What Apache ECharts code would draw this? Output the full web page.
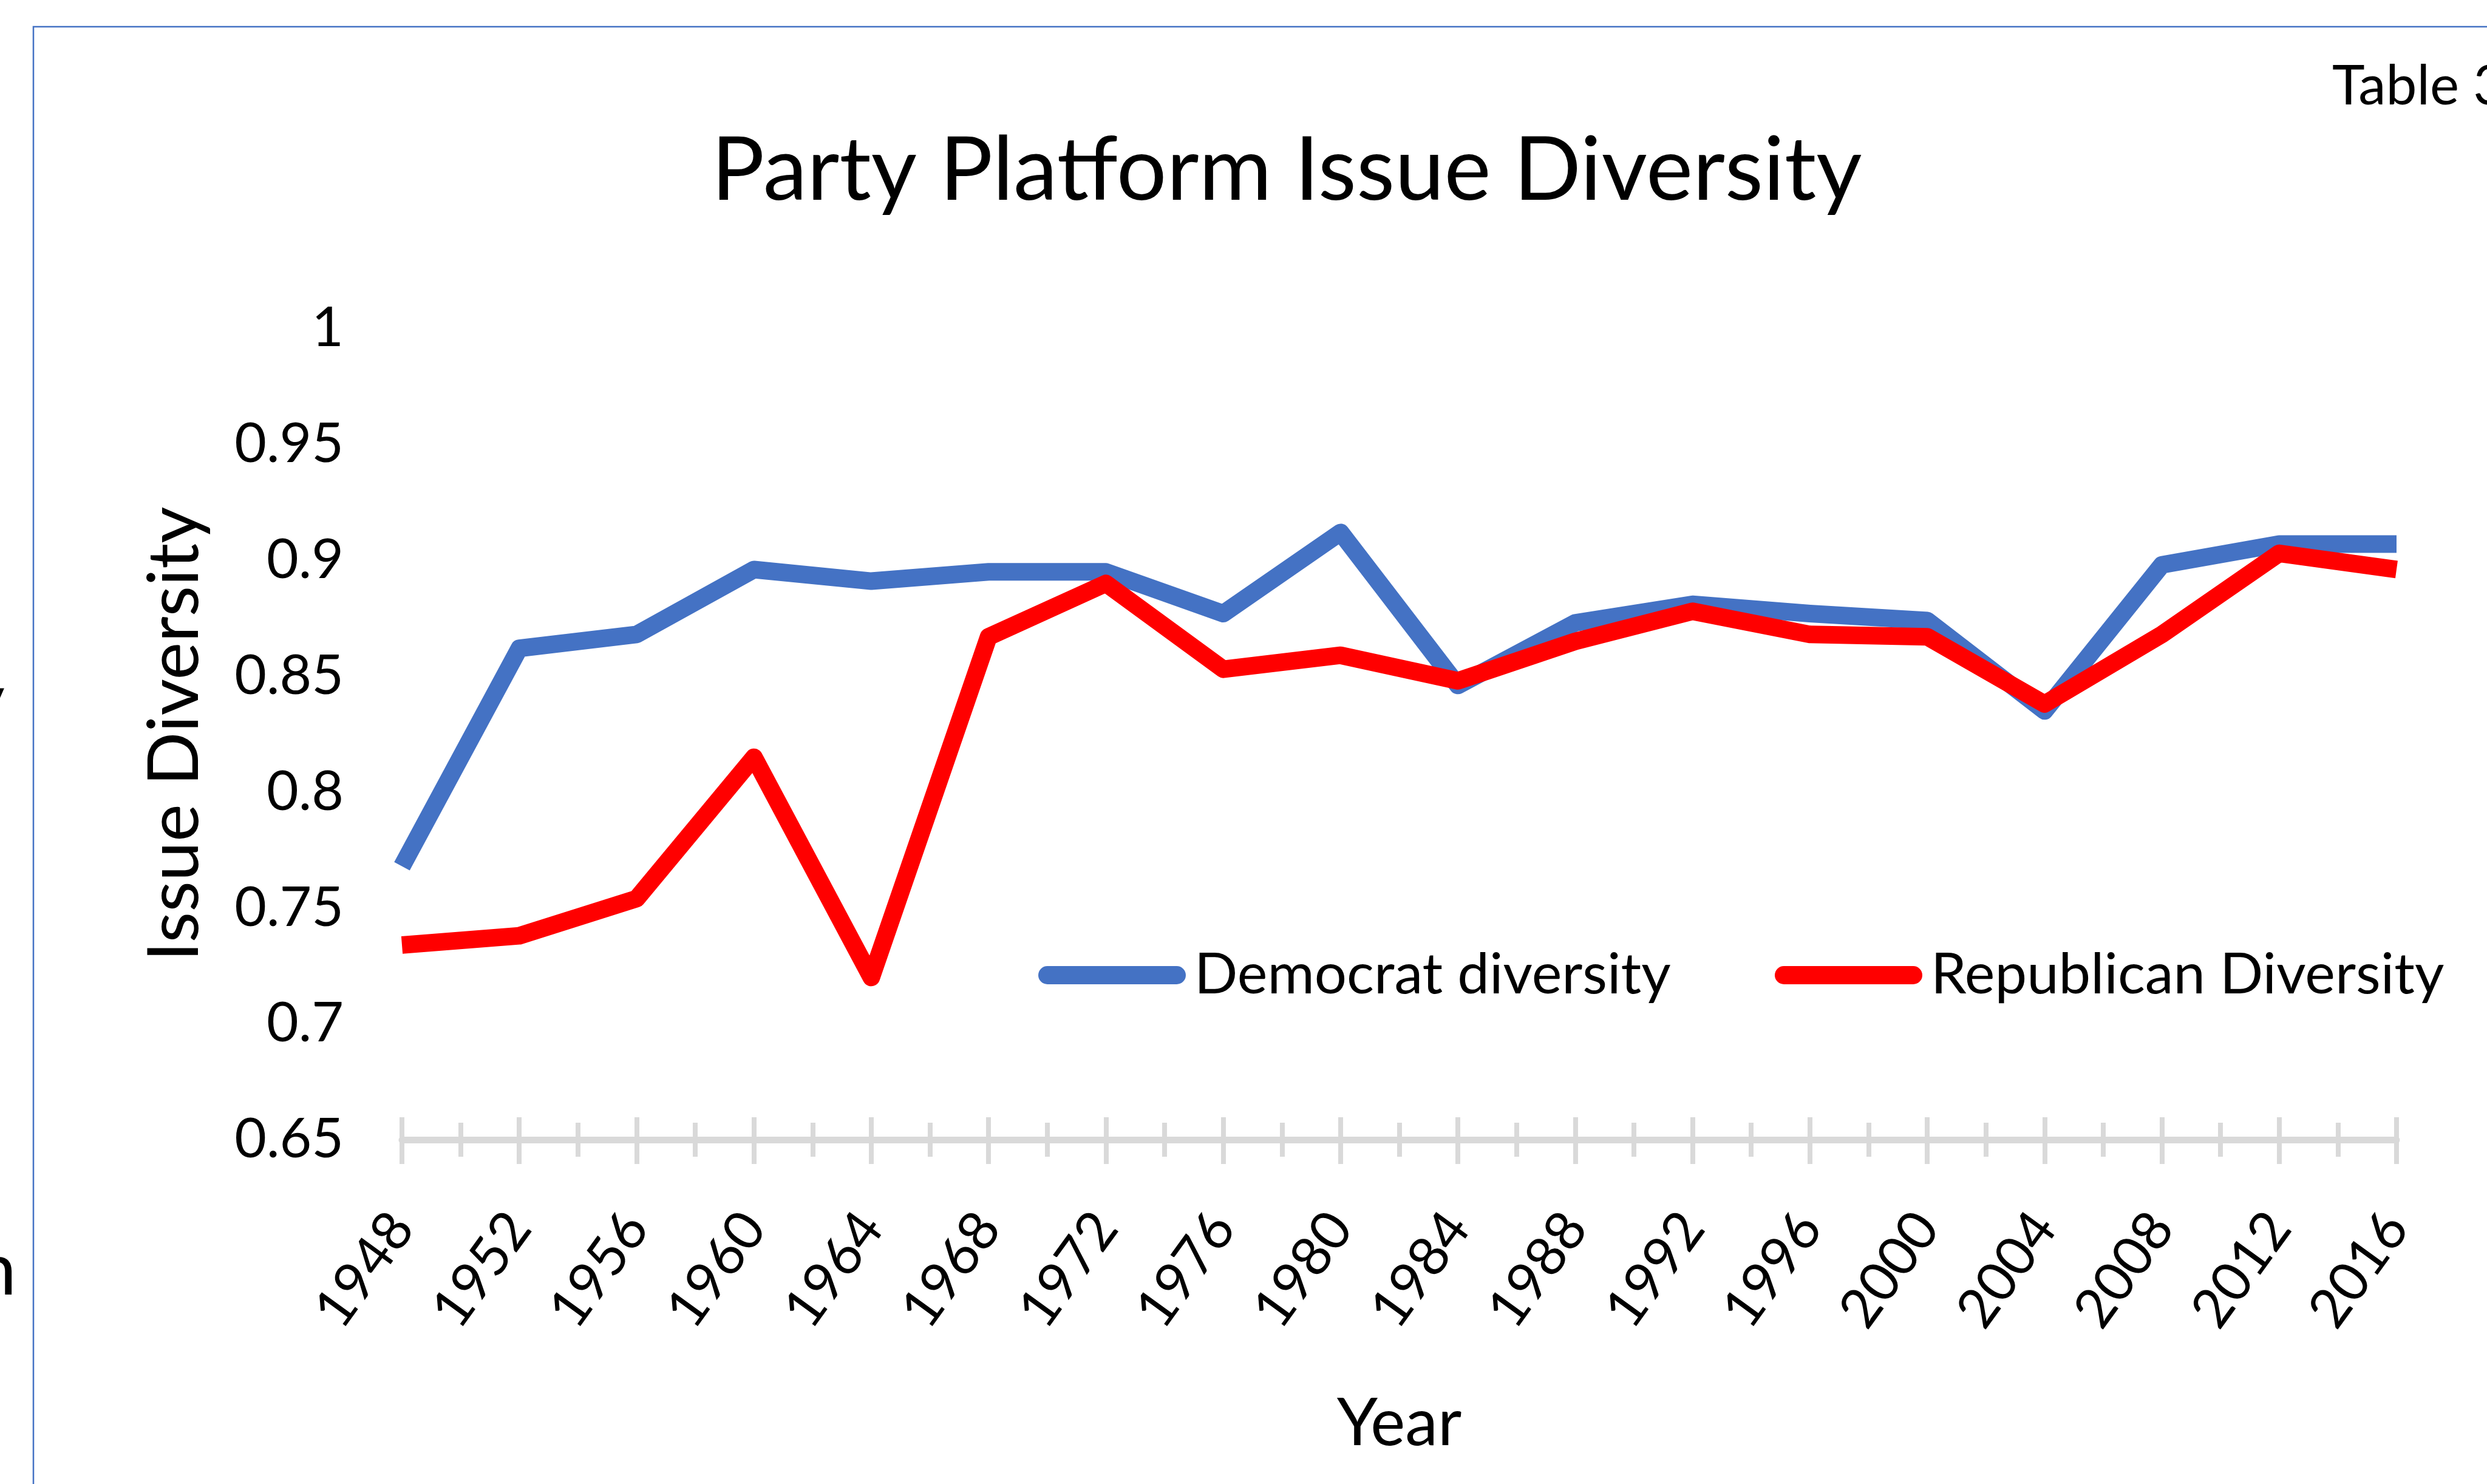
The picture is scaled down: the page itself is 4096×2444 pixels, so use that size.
<!DOCTYPE html>
<html>
<head>
<meta charset="utf-8">
<script src="https://cdn.jsdelivr.net/npm/echarts@6/dist/echarts.min.js"></script>
<style>
html,body{margin:0;padding:0;background:#fff;overflow:hidden}
#c{width:4096px;height:2444px}
</style>
</head>
<body>
<div id="c"></div>
<script>
// ---- data ----
const years = [1948,1952,1956,1960,1964,1968,1972,1976,1980,1984,1988,1992,1996,2000,2004,2008,2012,2016];
const yearLabels = ['1948','1952','1956','1960','1964','1968','1972','1976','1980','1984','1988','1992','1996','2000','2004','2008','2012','2016'];
const democratDiversity = [0.768,0.862,0.868,0.896,0.891,0.895,0.895,0.877,0.912,0.846,0.873,0.881,0.877,0.874,0.835,0.898,0.907,0.907];
const republicanDiversity = [0.734,0.738,0.754,0.815,0.720,0.867,0.890,0.853,0.859,0.848,0.865,0.878,0.868,0.867,0.838,0.868,0.903,0.896];
const yMin = 0.65, yMax = 1, yStep = 0.05;
const seriesNames = ['Democrat diversity','Republican Diversity'];
const titleText = 'Party Platform Issue Diversity';
const xAxisTitle = 'Year';
const yAxisTitle = 'Issue Diversity';
const cornerNote = 'Table 3';

// ---- rendering ----
const FONT = 'Lato';
const BLUE = '#4472C4', RED = '#FF0000', AXIS = '#D9D9D9';
const chart = echarts.init(document.getElementById('c'), null, {renderer:'canvas', width:4096, height:2444});
const pairs = arr => years.map((y, i) => [y, arr[i]]);
const ICON = 'path://M15 0 H228 A15 15 0 0 1 228 30 H15 A15 15 0 0 1 15 0 Z';

const legendCommon = {
  orient:'horizontal', padding:0, itemWidth:243, itemHeight:30, icon:ICON,
  itemStyle:{borderWidth:0}, selectedMode:false,
  textStyle:{fontFamily:FONT, fontSize:94, color:'#000', padding:[0,0,0,9]}
};

const option = {
  animation:false,
  backgroundColor:'#ffffff',
  textStyle:{fontFamily:FONT},
  grid:{left:662, right:149, top:541, bottom:567, containLabel:false, outerBoundsMode:'none'},
  xAxis:[
    {
      type:'value', position:'bottom', min:years[0], max:years[years.length-1], interval:4,
      name:xAxisTitle, nameLocation:'middle', nameGap:414,
      nameTextStyle:{fontFamily:FONT, fontSize:108, color:'#000'},
      axisLine:{show:true, onZero:false, lineStyle:{color:AXIS, width:11}},
      axisTick:{show:true, inside:false, length:40, lineStyle:{color:AXIS, width:8}},
      minorTick:{show:true, splitNumber:2, length:28, lineStyle:{color:AXIS, width:8}},
      axisLabel:{show:true, rotate:54, margin:130, fontSize:90, fontFamily:FONT, color:'#000',
        formatter:v => { const i = years.indexOf(v); return i >= 0 ? yearLabels[i] : ''; }},
      splitLine:{show:false}, minorSplitLine:{show:false}
    },
    {
      type:'value', position:'bottom', min:years[0], max:years[years.length-1], interval:4,
      axisLine:{show:false, onZero:false},
      axisTick:{show:true, inside:true, length:37, lineStyle:{color:AXIS, width:8}},
      minorTick:{show:true, splitNumber:2, length:28, lineStyle:{color:AXIS, width:8}},
      axisLabel:{show:false}, splitLine:{show:false}, minorSplitLine:{show:false}
    }
  ],
  yAxis:{
    type:'value', min:yMin, max:yMax, interval:yStep,
    name:yAxisTitle, nameLocation:'middle', nameGap:315,
    nameTextStyle:{fontFamily:FONT, fontSize:117, color:'#000'},
    axisLine:{show:false}, axisTick:{show:false}, splitLine:{show:false},
    axisLabel:{margin:96, fontSize:91, fontFamily:FONT, color:'#000'}
  },
  legend:[
    Object.assign({}, legendCommon, {data:[seriesNames[0]], left:1710, top:1559}),
    Object.assign({}, legendCommon, {data:[seriesNames[1]], left:2923, top:1559})
  ],
  series:[
    {name:seriesNames[0], type:'line', data:pairs(democratDiversity), symbol:'none', color:BLUE,
     lineStyle:{width:29, color:BLUE, cap:'butt', join:'round'}, emphasis:{disabled:true}, silent:true, z:2},
    {name:seriesNames[1], type:'line', data:pairs(republicanDiversity), symbol:'none', color:RED,
     lineStyle:{width:29, color:RED, cap:'butt', join:'round'}, emphasis:{disabled:true}, silent:true, z:3}
  ],
  graphic:[
    {type:'rect', silent:true, z:0, shape:{x:55, y:44, width:6000, height:6000},
     style:{fill:'none', stroke:BLUE, lineWidth:2.5}},
    {type:'text', silent:true, x:2119, y:282,
     style:{text:titleText, fontFamily:FONT, fontSize:146, fill:'#000', align:'center', verticalAlign:'middle'}},
    {type:'text', silent:true, x:3841, y:143,
     style:{text:cornerNote, fontFamily:FONT, fontSize:91, fill:'#000', align:'left', verticalAlign:'middle'}},
    {type:'text', silent:true, x:8, y:1155,
     style:{text:'y', fontFamily:FONT, fontSize:121, fill:'#000', align:'right', verticalAlign:'middle'}},
    {type:'text', silent:true, x:27, y:2093,
     style:{text:'n', fontFamily:FONT, fontSize:121, fill:'#000', align:'right', verticalAlign:'middle'}}
  ]
};
chart.setOption(option);
</script>
</body>
</html>
